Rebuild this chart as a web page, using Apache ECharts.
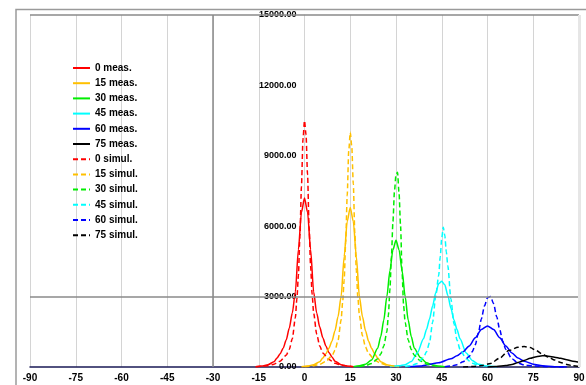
<!DOCTYPE html>
<html>
<head>
<meta charset="utf-8">
<script src="https://cdn.jsdelivr.net/npm/echarts@6/dist/echarts.min.js"></script>
<style>
html,body{margin:0;padding:0;background:#fff;}
#chart{width:586px;height:385px;}
</style>
</head>
<body>
<div id="chart"></div>
<script>
// ---- data ----
var xTicks = [-90,-75,-60,-45,-30,-15,0,15,30,45,60,75,90];
var yTicks = [0,3000,6000,9000,12000,15000];

var x0m = [-16,-14,-12,-10,-9,-8,-7,-6,-5,-4,-3,-2,-1,0,1,2,3,4,5,6,7,8,9,10,12,14,16];
var y0m = [10,40,100,220,380,560,800,1150,1650,2300,3200,5000,6600,7200,6600,5000,3200,2300,1700,1250,900,620,430,250,100,40,10];

var x15m = [-1,1,3,5,6,7,8,9,10,11,12,13,14,15,16,17,18,19,20,21,22,23,24,25,27,29,31];
var y15m = [10,40,100,220,380,560,800,1100,1550,2150,3000,4700,6200,6800,6200,4700,3000,2150,1550,1100,800,560,380,220,100,40,10];

var x30m = [16,18,20,22,24,25,26,27,28,29,30,31,32,33,34,35,36,38,40,42,44,46];
var y30m = [15,50,120,300,800,1300,2000,3000,4100,5000,5400,5000,4100,3000,2000,1300,800,400,180,90,40,15];

var x45m = [28,31,33,35,37,39,40,41,42,43,44,45,46,47,48,49,50,51,53,55,57,60,63];
var y45m = [15,50,100,230,600,1200,1600,2050,2600,3150,3550,3650,3500,3050,2500,2000,1600,1200,600,280,120,40,10];

var x60m = [34,38,40,44,48,50,52,54,56,58,60,62,64,66,68,70,72,75,78,82,86];
var y60m = [10,40,90,180,350,480,650,900,1250,1600,1750,1600,1250,900,600,380,250,120,50,15,5];

var x75m = [60,63,66,68,70,72,74,76,78,79,80,82,84,86,88,90];
var y75m = [5,20,60,110,190,280,370,440,475,480,460,420,370,310,250,200];

var x0s = [-16,-14,-12,-10,-8,-6,-5,-4,-3,-2.5,-2,-1.5,-1,-0.5,0,0.5,1,1.5,2,2.5,3,4,5,6,8,10,12,14,16];
var y0s = [10,30,50,120,250,500,750,1200,2100,2900,3900,5600,7700,9700,10500,9900,8200,6000,4300,3100,2300,1400,900,600,320,160,80,40,10];

var x15s = [0,3,5,7,9,10,11,12,12.5,13,13.5,14,14.5,15,15.5,16,16.5,17,17.5,18,19,20,21,23,25,27,30];
var y15s = [10,50,115,240,480,710,1140,2000,2750,3700,5300,7300,9200,10000,9400,7800,5700,4100,2950,2200,1330,860,570,300,150,75,20];

var x30s = [18,20,22,24,25,26,27,27.5,28,28.5,29,29.5,30,30.5,31,31.5,32,32.5,33,34,35,36,38,40,42,45];
var y30s = [20,60,150,350,550,900,1500,2200,3300,4700,6200,7500,8200,8300,7400,6000,4000,2600,1900,1150,750,500,260,130,60,15];

var x45s = [33,35,37,39,40,41,42,43,44,44.5,45,45.5,46,46.5,47,48,49,50,51,53,55,57,60];
var y45s = [20,60,150,400,650,1050,1900,3000,3900,4700,5500,5950,5600,4900,4300,2900,1850,1150,750,350,160,70,20];

var x60s = [46,48,50,52,54,55,56,57,58,59,60,61,62,63,64,65,66,68,70,72,75,80,85];
var y60s = [15,40,100,220,450,650,950,1450,2050,2600,2950,3000,2700,2150,1600,1100,750,350,170,90,40,10,0];

var x75s = [52,55,58,61,64,67,70,72,74,76,78,80,82,84,86,88,90];
var y75s = [5,20,60,150,380,700,840,870,830,700,550,420,300,190,110,50,20];

var seriesNames = ['0 meas.','15 meas.','30 meas.','45 meas.','60 meas.','75 meas.',
                   '0 simul.','15 simul.','30 simul.','45 simul.','60 simul.','75 simul.'];
var seriesX = [x0m,x15m,x30m,x45m,x60m,x75m,x0s,x15s,x30s,x45s,x60s,x75s];
var seriesY = [y0m,y15m,y30m,y45m,y60m,y75m,y0s,y15s,y30s,y45s,y60s,y75s];
var colors = ['#ff0000','#ffc000','#00ee00','#00ffff','#0000ff','#000000'];

// ---- build ----
var FONT = "'Liberation Sans', Arial, sans-serif";
function pairs(xs, ys){ var r=[]; for(var i=0;i<xs.length;i++) r.push([xs[i],ys[i]]); return r; }

var series = [];
for (var i = 0; i < seriesNames.length; i++) {
  var dashed = i >= 6;
  var s = {
    name: seriesNames[i],
    type: 'line',
    data: pairs(seriesX[i], seriesY[i]),
    symbol: 'none',
    showSymbol: false,
    smooth: 0.25,
    smoothMonotone: 'x',
    color: colors[i % 6],
    lineStyle: { width: 1.5, color: colors[i % 6], type: dashed ? [5,3] : 'solid' },
    z: dashed ? 4 : 3,
    silent: true
  };
  if (i === 0) {
    s.markLine = {
      silent: true, symbol: 'none', label: { show: false }, animation: false,
      data: [
        { yAxis: 3000, lineStyle: { color: '#8a8a8a', width: 1.5, type: 'solid' } },
        { xAxis: -30, lineStyle: { color: '#8a8a8a', width: 1.5, type: 'solid' } },
        { yAxis: 15000, lineStyle: { color: '#8a8a8a', width: 1.5, type: 'solid' } },
        { xAxis: 90, lineStyle: { color: '#e6e6e6', width: 3, type: 'solid' } }
      ]
    };
  }
  series.push(s);
}

var chart = echarts.init(document.getElementById('chart'), null, { renderer: 'canvas' });
chart.setOption({
  animation: false,
  backgroundColor: '#ffffff',
  textStyle: { fontFamily: FONT },
  grid: { left: 30, right: 7, top: 15, bottom: 18, containLabel: false, outerBoundsMode: 'none' },
  legend: {
    orient: 'vertical',
    left: 67, top: 57,
    itemWidth: 17, itemHeight: 12, itemGap: 3.2,
    data: seriesNames,
    selectedMode: false,
    itemStyle: { opacity: 0 },
    textStyle: { fontFamily: FONT, fontSize: 10, fontWeight: 'bold', color: '#000', lineHeight: 12 }
  },
  graphic: [
    { type: 'polyline', silent: true, z: 0,
      shape: { points: [[16, 385], [16, 9.5], [586, 9.5]] },
      style: { stroke: '#9a9a9a', lineWidth: 1.5, fill: null } }
  ],
  xAxis: {
    type: 'value', min: -90, max: 90, interval: 15,
    axisLine: { show: true, onZero: true, lineStyle: { color: '#1a1a55', width: 1.5 } },
    axisTick: { show: false },
    splitLine: { show: true, lineStyle: { color: '#d4d4d4', width: 1 } },
    axisLabel: {
      margin: 6, color: '#000', fontSize: 10, fontWeight: 'bold', fontFamily: FONT,
      formatter: function (v) { return xTicks.indexOf(v) >= 0 ? String(v) : ''; }
    }
  },
  yAxis: {
    type: 'value', min: 0, max: 15000, interval: 3000,
    position: 'left', offset: -274.5,
    axisLine: { show: true, onZero: false, lineStyle: { color: '#d4d4d4', width: 1 } },
    axisTick: { show: false },
    splitLine: { show: false },
    axisLabel: {
      margin: 8, color: '#000', fontSize: 9, fontWeight: 'bold', fontFamily: FONT,
      formatter: function (v) { return yTicks.indexOf(v) >= 0 ? v.toFixed(2) : ''; }
    }
  },
  series: series
});
</script>
</body>
</html>
